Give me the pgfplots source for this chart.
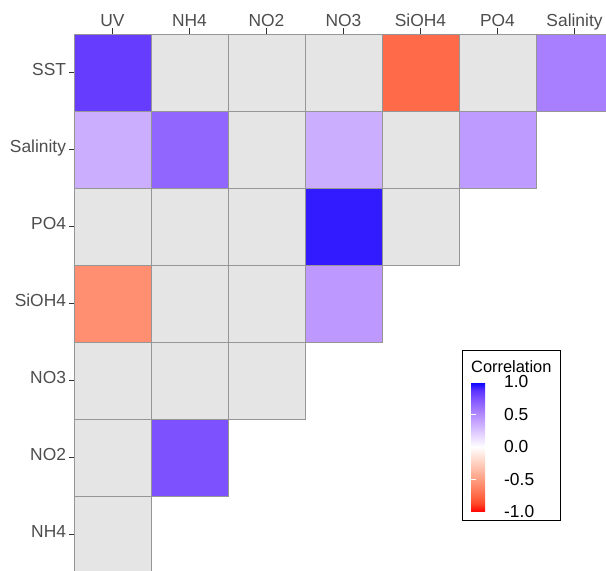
\documentclass[border=0pt]{standalone}
\usepackage{pgfplots}
\pgfplotsset{compat=1.18}
\usepackage{fontspec}
\setmainfont{Liberation Sans}
\definecolor{tilegrey}{HTML}{E5E5E5}
\definecolor{tileborder}{HTML}{969696}
\definecolor{labgrey}{HTML}{4D4D4D}
\definecolor{tickgrey}{HTML}{333333}
\newcommand\labfont{\fontsize{17.4bp}{21bp}\selectfont}
\newcommand\titfont{\fontsize{16.4bp}{20bp}\selectfont}
\pgfplotsset{colormap={corr}{
 rgb255(0cm)=(255,0,0) rgb255(1cm)=(255,70,40) rgb255(2cm)=(255,104,70)
 rgb255(4cm)=(255,158,129) rgb255(6cm)=(255,207,191) rgb255(8cm)=(255,255,255)
 rgb255(10cm)=(220,197,255) rgb255(12cm)=(179,139,255) rgb255(14cm)=(126,81,255)
 rgb255(15cm)=(89,50,255) rgb255(16cm)=(0,0,255)}}
\begin{document}
\begin{tikzpicture}
\useasboundingbox (0,0) rectangle (606bp,571bp);
\begin{axis}[
 at={(74bp,0bp)}, anchor=south west, scale only axis,
 width=532bp, height=537bp,
 xmin=0.5, xmax=7.409, ymin=0.526, ymax=7.5,
 axis x line*=top, axis y line*=left, axis line style={draw=none},
 xtick={1,2,3,4,5,6,7}, xticklabels={UV,NH4,NO2,NO3,SiOH4,PO4,Salinity},
 ytick={1,2,3,4,5,6,7}, yticklabels={NH4,NO2,NO3,SiOH4,PO4,Salinity,SST},
 tick align=outside, major tick length=5bp,
 tick label style={font=\labfont, text=labgrey},
 xticklabel style={text depth=0pt, inner sep=2.7bp},
 yticklabel style={text depth=0.21em, text height=0.72em, inner sep=2.8bp},
 clip marker paths=true,
 colormap name=corr, point meta min=-1, point meta max=1,
]
% non-significant cells
\addplot[only marks, mark=square*, mark size=38.5bp, line width=0.7bp,
  mark options={draw=tileborder, fill=tilegrey}] table {
x y
2 7
3 7
4 7
6 7
3 6
5 6
1 5
2 5
3 5
5 5
2 4
3 4
1 3
2 3
3 3
1 2
1 1
};
% significant correlations
\addplot[scatter, only marks, mark=square*, mark size=38.5bp, line width=0.7bp,
  scatter src=explicit,
  scatter/use mapped color={draw=tileborder, fill=mapped color}] table[meta=c] {
x y c
1 7 0.83
5 7 -0.74
7 7 0.55
1 6 0.35
2 6 0.66
4 6 0.35
6 6 0.43
4 5 0.93
1 4 -0.57
4 4 0.44
2 2 0.75
};
\end{axis}
% axis tick marks (ggplot style, grey20)
\fill[tickgrey] (111.7bp,537bp) rectangle (113.3bp,542.5bp);
\fill[tickgrey] (188.7bp,537bp) rectangle (190.3bp,542.5bp);
\fill[tickgrey] (265.7bp,537bp) rectangle (267.3bp,542.5bp);
\fill[tickgrey] (342.7bp,537bp) rectangle (344.3bp,542.5bp);
\fill[tickgrey] (419.7bp,537bp) rectangle (421.3bp,542.5bp);
\fill[tickgrey] (496.7bp,537bp) rectangle (498.3bp,542.5bp);
\fill[tickgrey] (573.7bp,537bp) rectangle (575.3bp,542.5bp);
\fill[tickgrey] (68.5bp,35.7bp) rectangle (74bp,37.3bp);
\fill[tickgrey] (68.5bp,112.7bp) rectangle (74bp,114.3bp);
\fill[tickgrey] (68.5bp,189.7bp) rectangle (74bp,191.3bp);
\fill[tickgrey] (68.5bp,266.7bp) rectangle (74bp,268.3bp);
\fill[tickgrey] (68.5bp,343.7bp) rectangle (74bp,345.3bp);
\fill[tickgrey] (68.5bp,420.7bp) rectangle (74bp,422.3bp);
\fill[tickgrey] (68.5bp,497.7bp) rectangle (74bp,499.3bp);
% legend
\draw[black, line width=0.9bp] (462bp,51bp) rectangle (560bp,221bp);
\node[anchor=base west, inner sep=0pt, font=\titfont] at (471bp,198.8bp) {Correlation};
\begin{axis}[at={(471bp,59bp)}, anchor=south west, hide axis, scale only axis,
 width=0pt, height=0pt,
 colormap name=corr, point meta min=-1, point meta max=1,
 colorbar, colorbar shift/.style={},
 colorbar style={at={(parent axis.south west)}, anchor=south west,
   width=26bp, height=130bp,
   ytick={-1,-0.5,0,0.5,1}, yticklabels={-1.0,-0.5,0.0,0.5,1.0},
   axis line style={draw=none}, tick align=inside, major tick length=5bp,
   ytick style={draw=white, line width=0.8bp}, ytick pos=both, yticklabel pos=right,
   yticklabel style={font=\labfont, text=black, inner sep=2bp, xshift=5bp},
 }]
\addplot[draw=none] coordinates {(0,0)};
\end{axis}
\end{tikzpicture}
\end{document}
